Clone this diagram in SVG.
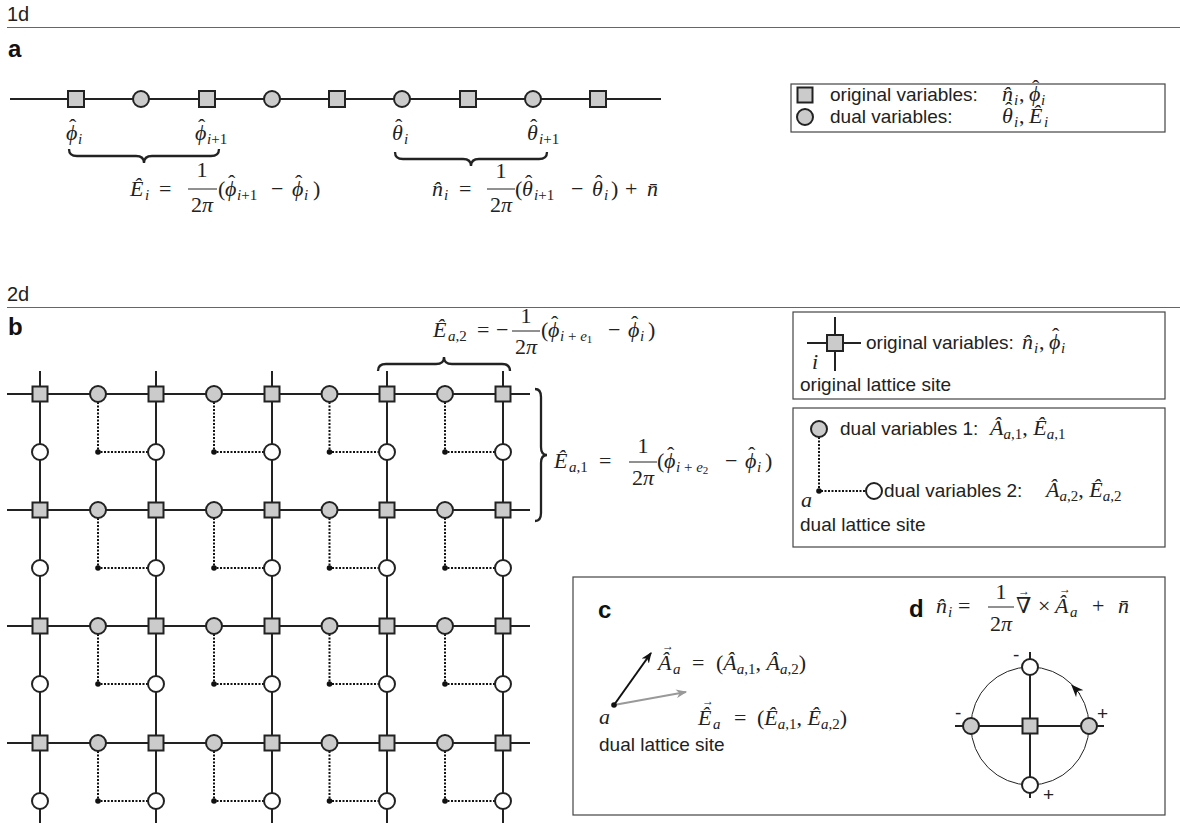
<svg xmlns="http://www.w3.org/2000/svg" width="1180" height="823" viewBox="0 0 1180 823">
<style>
.sans{font-family:"Liberation Sans",Arial,sans-serif;fill:#222;font-size:19px}
.hd{font-size:20px}
.pl{font-weight:bold;font-size:24px;fill:#111}
.m{font-family:"Liberation Serif","Times New Roman","DejaVu Serif",serif;font-size:22px;fill:#222}
.mi{font-style:italic}
.sub{font-size:15px}
.ss{font-size:11px}
.h{font-style:normal}
.vec{font-size:12px;font-style:normal}
.sq{fill:#cbcbcb;stroke:#222;stroke-width:2}
.gc{fill:#cbcbcb;stroke:#222;stroke-width:2}
.wc{fill:#fff;stroke:#222;stroke-width:2}
.ln{stroke:#222;stroke-width:2;fill:none}
.thin{stroke:#222;stroke-width:1;fill:none}
.dl{stroke:#111;stroke-width:2;stroke-dasharray:2 1.5;fill:none}
.brace{stroke:#222;stroke-width:2.3;fill:none}
.frame{fill:none;stroke:#444;stroke-width:1.2}
.rule{stroke:#666;stroke-width:1}
.dot{fill:#111}
.bar{stroke:#222;stroke-width:1}
</style>
<defs>
<rect id="sq" x="-7.5" y="-7.5" width="15" height="15" class="sq"/>
<rect id="sq1" x="-8" y="-8" width="16" height="16" class="sq"/>
<circle id="gc" r="8" class="gc"/>
<circle id="wc" r="8" class="wc"/>
<circle id="dt" r="2.8" class="dot"/>
<marker id="ahk" viewBox="0 0 10 8" refX="9" refY="4" markerWidth="11" markerHeight="9" orient="auto" markerUnits="userSpaceOnUse"><path d="M0,0 L10,4 L0,8 L3,4 Z" fill="#111"/></marker>
<marker id="ahg" viewBox="0 0 10 8" refX="9" refY="4" markerWidth="11" markerHeight="9" orient="auto" markerUnits="userSpaceOnUse"><path d="M0,0 L10,4 L0,8 L3,4 Z" fill="#999"/></marker>
<marker id="ahc" viewBox="0 0 10 8" refX="9" refY="4" markerWidth="13" markerHeight="10" orient="auto" markerUnits="userSpaceOnUse"><path d="M0,0 L10,4 L0,8 L3,4 Z" fill="#111"/></marker>
</defs>

<g id="headings">
<text class="sans hd" x="7" y="21">1d</text>
<line class="rule" x1="7" y1="27.5" x2="1180" y2="27.5"/>
<text class="sans pl" x="8" y="57">a</text>
<text class="sans hd" x="7" y="301">2d</text>
<line class="rule" x1="7" y1="307.5" x2="1180" y2="307.5"/>
<text class="sans pl" x="8" y="335">b</text>
</g>

<g id="connectors">
<line class="ln" x1="10" y1="99" x2="661" y2="99"/>
<path class="ln" d="M7,394H530M7,510H530M7,626H530M7,743H530"/>
<path class="ln" d="M40,371V823M156,371V823M272,371V823M387,371V823M503,371V823"/>
<path class="dl" d="M98,402V452H148M214,402V452H264M329.5,402V452H379M445,402V452H495"/>
<path class="dl" d="M98,518V568H148M214,518V568H264M329.5,518V568H379M445,518V568H495"/>
<path class="dl" d="M98,634V684H148M214,634V684H264M329.5,634V684H379M445,634V684H495"/>
<path class="dl" d="M98,751V801H148M214,751V801H264M329.5,751V801H379M445,751V801H495"/>
</g>

<g id="chain1d">
<use href="#sq1" x="76" y="99"/><use href="#gc" x="141" y="99"/>
<use href="#sq1" x="207" y="99"/><use href="#gc" x="272" y="99"/>
<use href="#sq1" x="337" y="99"/><use href="#gc" x="402" y="99"/>
<use href="#sq1" x="468" y="99"/><use href="#gc" x="533" y="99"/>
<use href="#sq1" x="598" y="99"/>
</g>

<g id="labels1d">
<text class="m" y="140"><tspan class="mi" x="66">ϕ</tspan><tspan class="sub mi" x="78" y="144">i</tspan><tspan class="h" x="69" y="134">ˆ</tspan></text>
<text class="m" y="140"><tspan class="mi" x="195">ϕ</tspan><tspan class="sub" x="207" y="144"><tspan class="mi">i</tspan>+1</tspan><tspan class="h" x="198" y="134">ˆ</tspan></text>
<text class="m" y="140"><tspan class="mi" x="392">θ</tspan><tspan class="sub mi" x="404" y="144">i</tspan><tspan class="h" x="395" y="134">ˆ</tspan></text>
<text class="m" y="140"><tspan class="mi" x="527">θ</tspan><tspan class="sub" x="539" y="144"><tspan class="mi">i</tspan>+1</tspan><tspan class="h" x="530" y="134">ˆ</tspan></text>
<path class="brace" d="M69,149 Q69,156 77,156 L136,156 Q144,156 144,163 Q144,156 152,156 L211,156 Q219,156 219,149"/>
<path class="brace" d="M395,152 Q395,159 403,159 L463,159 Q471,159 471,166 Q471,159 479,159 L539,159 Q547,159 547,152"/>
</g>

<g id="formulaE1d">
<text class="m" y="196"><tspan class="mi" x="130">Ê</tspan><tspan class="sub mi" x="145" y="200">i</tspan><tspan x="159" y="196">=</tspan></text>
<text class="m" x="202" y="177" text-anchor="middle">1</text>
<line class="bar" x1="188" y1="189" x2="217" y2="189"/>
<text class="m" x="202" y="212" text-anchor="middle">2<tspan class="mi">π</tspan></text>
<text class="m" y="196"><tspan x="218">(</tspan><tspan class="mi" x="225">ϕ</tspan><tspan class="sub" x="237" y="200"><tspan class="mi">i</tspan>+1</tspan><tspan x="271" y="196">−</tspan><tspan class="mi" x="292">ϕ</tspan><tspan class="sub mi" x="304" y="200">i</tspan><tspan x="313" y="196">)</tspan><tspan class="h" x="228" y="190">ˆ</tspan><tspan class="h" x="295" y="190">ˆ</tspan></text>
</g>

<g id="formulaN1d">
<text class="m" y="196"><tspan class="mi" x="432">n̂</tspan><tspan class="sub mi" x="444" y="200">i</tspan><tspan x="459" y="196">=</tspan></text>
<text class="m" x="501" y="178" text-anchor="middle">1</text>
<line class="bar" x1="487" y1="189" x2="515" y2="189"/>
<text class="m" x="501" y="212" text-anchor="middle">2<tspan class="mi">π</tspan></text>
<text class="m" y="196"><tspan x="515">(</tspan><tspan class="mi" x="522">θ</tspan><tspan class="sub" x="534" y="200"><tspan class="mi">i</tspan>+1</tspan><tspan x="571" y="196">−</tspan><tspan class="mi" x="592">θ</tspan><tspan class="sub mi" x="604" y="200">i</tspan><tspan x="611" y="196">)</tspan><tspan x="625">+</tspan><tspan class="mi" x="647">n̄</tspan><tspan class="h" x="525" y="190">ˆ</tspan><tspan class="h" x="595" y="190">ˆ</tspan></text>
</g>

<g id="legend1d">
<rect class="frame" x="791" y="84" width="374" height="48"/>
<use href="#sq" x="805" y="95"/>
<text class="sans" x="830" y="101">original variables:</text>
<text class="m" y="101"><tspan class="mi" x="1002">n̂</tspan><tspan class="sub mi" x="1014" y="105">i</tspan><tspan x="1019" y="101">,</tspan><tspan class="mi" x="1029">ϕ</tspan><tspan class="sub mi" x="1041" y="105">i</tspan><tspan class="h" x="1032" y="95">ˆ</tspan></text>
<use href="#gc" x="805" y="117"/>
<text class="sans" x="830" y="123">dual variables:</text>
<text class="m" y="123"><tspan class="mi" x="1002">θ</tspan><tspan class="sub mi" x="1014" y="127">i</tspan><tspan x="1019" y="123">,</tspan><tspan class="mi" x="1029">Ê</tspan><tspan class="sub mi" x="1044" y="127">i</tspan><tspan class="h" x="1005" y="117">ˆ</tspan></text>
</g>

<g id="lattice-original">
<use href="#sq" x="40" y="394"/><use href="#sq" x="156" y="394"/><use href="#sq" x="272" y="394"/><use href="#sq" x="387" y="394"/><use href="#sq" x="503" y="394"/>
<use href="#sq" x="40" y="510"/><use href="#sq" x="156" y="510"/><use href="#sq" x="272" y="510"/><use href="#sq" x="387" y="510"/><use href="#sq" x="503" y="510"/>
<use href="#sq" x="40" y="626"/><use href="#sq" x="156" y="626"/><use href="#sq" x="272" y="626"/><use href="#sq" x="387" y="626"/><use href="#sq" x="503" y="626"/>
<use href="#sq" x="40" y="743"/><use href="#sq" x="156" y="743"/><use href="#sq" x="272" y="743"/><use href="#sq" x="387" y="743"/><use href="#sq" x="503" y="743"/>
</g>
<g id="lattice-dual1">
<use href="#gc" x="98" y="394"/><use href="#gc" x="214" y="394"/><use href="#gc" x="329.5" y="394"/><use href="#gc" x="445" y="394"/>
<use href="#gc" x="98" y="510"/><use href="#gc" x="214" y="510"/><use href="#gc" x="329.5" y="510"/><use href="#gc" x="445" y="510"/>
<use href="#gc" x="98" y="626"/><use href="#gc" x="214" y="626"/><use href="#gc" x="329.5" y="626"/><use href="#gc" x="445" y="626"/>
<use href="#gc" x="98" y="743"/><use href="#gc" x="214" y="743"/><use href="#gc" x="329.5" y="743"/><use href="#gc" x="445" y="743"/>
</g>
<g id="lattice-dual2">
<use href="#wc" x="40" y="452"/><use href="#wc" x="156" y="452"/><use href="#wc" x="272" y="452"/><use href="#wc" x="387" y="452"/><use href="#wc" x="503" y="452"/>
<use href="#wc" x="40" y="568"/><use href="#wc" x="156" y="568"/><use href="#wc" x="272" y="568"/><use href="#wc" x="387" y="568"/><use href="#wc" x="503" y="568"/>
<use href="#wc" x="40" y="684"/><use href="#wc" x="156" y="684"/><use href="#wc" x="272" y="684"/><use href="#wc" x="387" y="684"/><use href="#wc" x="503" y="684"/>
<use href="#wc" x="40" y="801"/><use href="#wc" x="156" y="801"/><use href="#wc" x="272" y="801"/><use href="#wc" x="387" y="801"/><use href="#wc" x="503" y="801"/>
</g>
<g id="lattice-dualsites">
<use href="#dt" x="98" y="452"/><use href="#dt" x="214" y="452"/><use href="#dt" x="329.5" y="452"/><use href="#dt" x="445" y="452"/>
<use href="#dt" x="98" y="568"/><use href="#dt" x="214" y="568"/><use href="#dt" x="329.5" y="568"/><use href="#dt" x="445" y="568"/>
<use href="#dt" x="98" y="684"/><use href="#dt" x="214" y="684"/><use href="#dt" x="329.5" y="684"/><use href="#dt" x="445" y="684"/>
<use href="#dt" x="98" y="801"/><use href="#dt" x="214" y="801"/><use href="#dt" x="329.5" y="801"/><use href="#dt" x="445" y="801"/>
</g>

<g id="formulaEa2">
<path class="brace" d="M378,371 Q378,364 386,364 L436,364 Q444,364 444,357 Q444,364 452,364 L502,364 Q510,364 510,371"/>
<text class="m" y="337"><tspan class="mi" x="433">Ê</tspan><tspan class="sub" x="448" y="341"><tspan class="mi">a</tspan>,2</tspan><tspan x="477" y="337">=</tspan><tspan x="496">−</tspan></text>
<text class="m" x="526" y="323" text-anchor="middle">1</text>
<line class="bar" x1="512" y1="331" x2="540" y2="331"/>
<text class="m" x="526" y="354" text-anchor="middle">2<tspan class="mi">π</tspan></text>
<text class="m" y="337"><tspan x="541">(</tspan><tspan class="mi" x="548">ϕ</tspan><tspan class="sub" x="560" y="341"><tspan class="mi">i</tspan> + <tspan class="mi">e</tspan></tspan><tspan class="ss" y="343">1</tspan><tspan x="608" y="337">−</tspan><tspan class="mi" x="628">ϕ</tspan><tspan class="sub mi" x="640" y="341">i</tspan><tspan x="648" y="337">)</tspan><tspan class="h" x="551" y="331">ˆ</tspan><tspan class="h" x="631" y="331">ˆ</tspan></text>
</g>

<g id="formulaEa1">
<path class="brace" d="M535,389 Q541,389 541,397 L541,447 Q541,455 547,455 Q541,455 541,463 L541,513 Q541,521 535,521"/>
<text class="m" y="468"><tspan class="mi" x="554">Ê</tspan><tspan class="sub" x="569" y="472"><tspan class="mi">a</tspan>,1</tspan><tspan x="599" y="468">=</tspan></text>
<text class="m" x="643" y="453" text-anchor="middle">1</text>
<line class="bar" x1="629" y1="462" x2="657" y2="462"/>
<text class="m" x="643" y="485" text-anchor="middle">2<tspan class="mi">π</tspan></text>
<text class="m" y="468"><tspan x="657">(</tspan><tspan class="mi" x="664">ϕ</tspan><tspan class="sub" x="676" y="472"><tspan class="mi">i</tspan> + <tspan class="mi">e</tspan></tspan><tspan class="ss" y="474">2</tspan><tspan x="725" y="468">−</tspan><tspan class="mi" x="745">ϕ</tspan><tspan class="sub mi" x="757" y="472">i</tspan><tspan x="765" y="468">)</tspan><tspan class="h" x="667" y="462">ˆ</tspan><tspan class="h" x="748" y="462">ˆ</tspan></text>
</g>

<g id="legend2d-original">
<rect class="frame" x="793" y="312" width="372" height="87"/>
<line class="ln" x1="807" y1="343" x2="861" y2="343"/>
<line class="ln" x1="835" y1="317" x2="835" y2="371"/>
<use href="#sq1" x="835" y="343"/>
<text class="m mi" x="812" y="369">i</text>
<text class="sans" x="866" y="349">original variables:</text>
<text class="m" y="349"><tspan class="mi" x="1022">n̂</tspan><tspan class="sub mi" x="1034" y="353">i</tspan><tspan x="1039" y="349">,</tspan><tspan class="mi" x="1049">ϕ</tspan><tspan class="sub mi" x="1061" y="353">i</tspan><tspan class="h" x="1052" y="343">ˆ</tspan></text>
<text class="sans" x="800" y="391">original lattice site</text>
</g>

<g id="legend2d-dual">
<rect class="frame" x="793" y="408" width="372" height="139"/>
<path class="dl" d="M819,437V491H866"/>
<use href="#gc" x="819" y="429"/>
<use href="#wc" x="874" y="491"/>
<use href="#dt" x="819" y="491"/>
<text class="m mi" x="801" y="507">a</text>
<text class="sans" x="840" y="435">dual variables 1:</text>
<text class="m" y="435"><tspan class="mi" x="990">Â</tspan><tspan class="sub" dy="4"><tspan class="mi">a</tspan>,1</tspan><tspan dy="-4">, </tspan><tspan class="mi">Ê</tspan><tspan class="sub" dy="4"><tspan class="mi">a</tspan>,1</tspan></text>
<text class="sans" x="884" y="497">dual variables 2:</text>
<text class="m" y="497"><tspan class="mi" x="1046">Â</tspan><tspan class="sub" dy="4"><tspan class="mi">a</tspan>,2</tspan><tspan dy="-4">, </tspan><tspan class="mi">Ê</tspan><tspan class="sub" dy="4"><tspan class="mi">a</tspan>,2</tspan></text>
<text class="sans" x="800" y="531">dual lattice site</text>
</g>

<rect id="frame-cd" class="frame" x="573" y="577" width="592" height="238"/>

<g id="panel-c">
<text class="sans pl" x="598" y="618">c</text>
<line x1="614" y1="705" x2="651" y2="653" stroke="#111" stroke-width="2" marker-end="url(#ahk)"/>
<line x1="614" y1="705" x2="686" y2="692" stroke="#999" stroke-width="2" marker-end="url(#ahg)"/>
<use href="#dt" x="614" y="705"/>
<text class="m mi" x="599" y="724">a</text>
<text class="m" y="670"><tspan class="mi" x="658">Â</tspan><tspan class="sub mi" x="673" y="674">a</tspan><tspan x="692" y="670">=</tspan><tspan x="716">(</tspan><tspan class="mi">Â</tspan><tspan class="sub" dy="4"><tspan class="mi">a</tspan>,1</tspan><tspan dy="-4">, </tspan><tspan class="mi">Â</tspan><tspan class="sub" dy="4"><tspan class="mi">a</tspan>,2</tspan><tspan dy="-4">)</tspan><tspan class="vec" x="662" y="650">→</tspan></text>
<text class="m" y="725"><tspan class="mi" x="698">Ê</tspan><tspan class="sub mi" x="713" y="729">a</tspan><tspan x="734" y="725">=</tspan><tspan x="757">(</tspan><tspan class="mi">Ê</tspan><tspan class="sub" dy="4"><tspan class="mi">a</tspan>,1</tspan><tspan dy="-4">, </tspan><tspan class="mi">Ê</tspan><tspan class="sub" dy="4"><tspan class="mi">a</tspan>,2</tspan><tspan dy="-4">)</tspan><tspan class="vec" x="702" y="705">→</tspan></text>
<text class="sans" x="599" y="751">dual lattice site</text>
</g>

<g id="panel-d">
<text class="sans pl" x="909" y="617">d</text>
<text class="m" y="613"><tspan class="mi" x="936">n̂</tspan><tspan class="sub mi" x="948" y="617">i</tspan><tspan x="958" y="613">=</tspan></text>
<text class="m" x="1001" y="599" text-anchor="middle">1</text>
<line class="bar" x1="988" y1="607" x2="1014" y2="607"/>
<text class="m" x="1001" y="631" text-anchor="middle">2<tspan class="mi">π</tspan></text>
<text class="m" y="613"><tspan x="1016">∇</tspan><tspan x="1038">×</tspan><tspan class="mi" x="1055">Â</tspan><tspan class="sub mi" x="1070" y="617">a</tspan><tspan x="1092" y="613">+</tspan><tspan class="mi" x="1118">n̄</tspan><tspan class="vec" x="1018" y="595">→</tspan><tspan class="vec" x="1059" y="593">→</tspan></text>
<circle class="thin" cx="1030" cy="726" r="59"/>
<path d="M1080,694 L1072,685.5" stroke="#222" stroke-width="1" fill="none" marker-end="url(#ahc)"/>
<line class="ln" x1="955" y1="726" x2="1104" y2="726"/>
<line class="ln" x1="1030" y1="652" x2="1030" y2="798"/>
<use href="#sq" x="1030" y="726"/>
<use href="#wc" x="1030" y="667"/>
<use href="#wc" x="1030" y="785"/>
<use href="#gc" x="971" y="726"/>
<use href="#gc" x="1089" y="726"/>
<text class="sans" x="1013" y="661" font-size="18">-</text>
<text class="sans" x="955" y="719" font-size="18">-</text>
<text class="sans" x="1097" y="720" font-size="18">+</text>
<text class="sans" x="1043" y="801" font-size="18">+</text>
</g>
</svg>
